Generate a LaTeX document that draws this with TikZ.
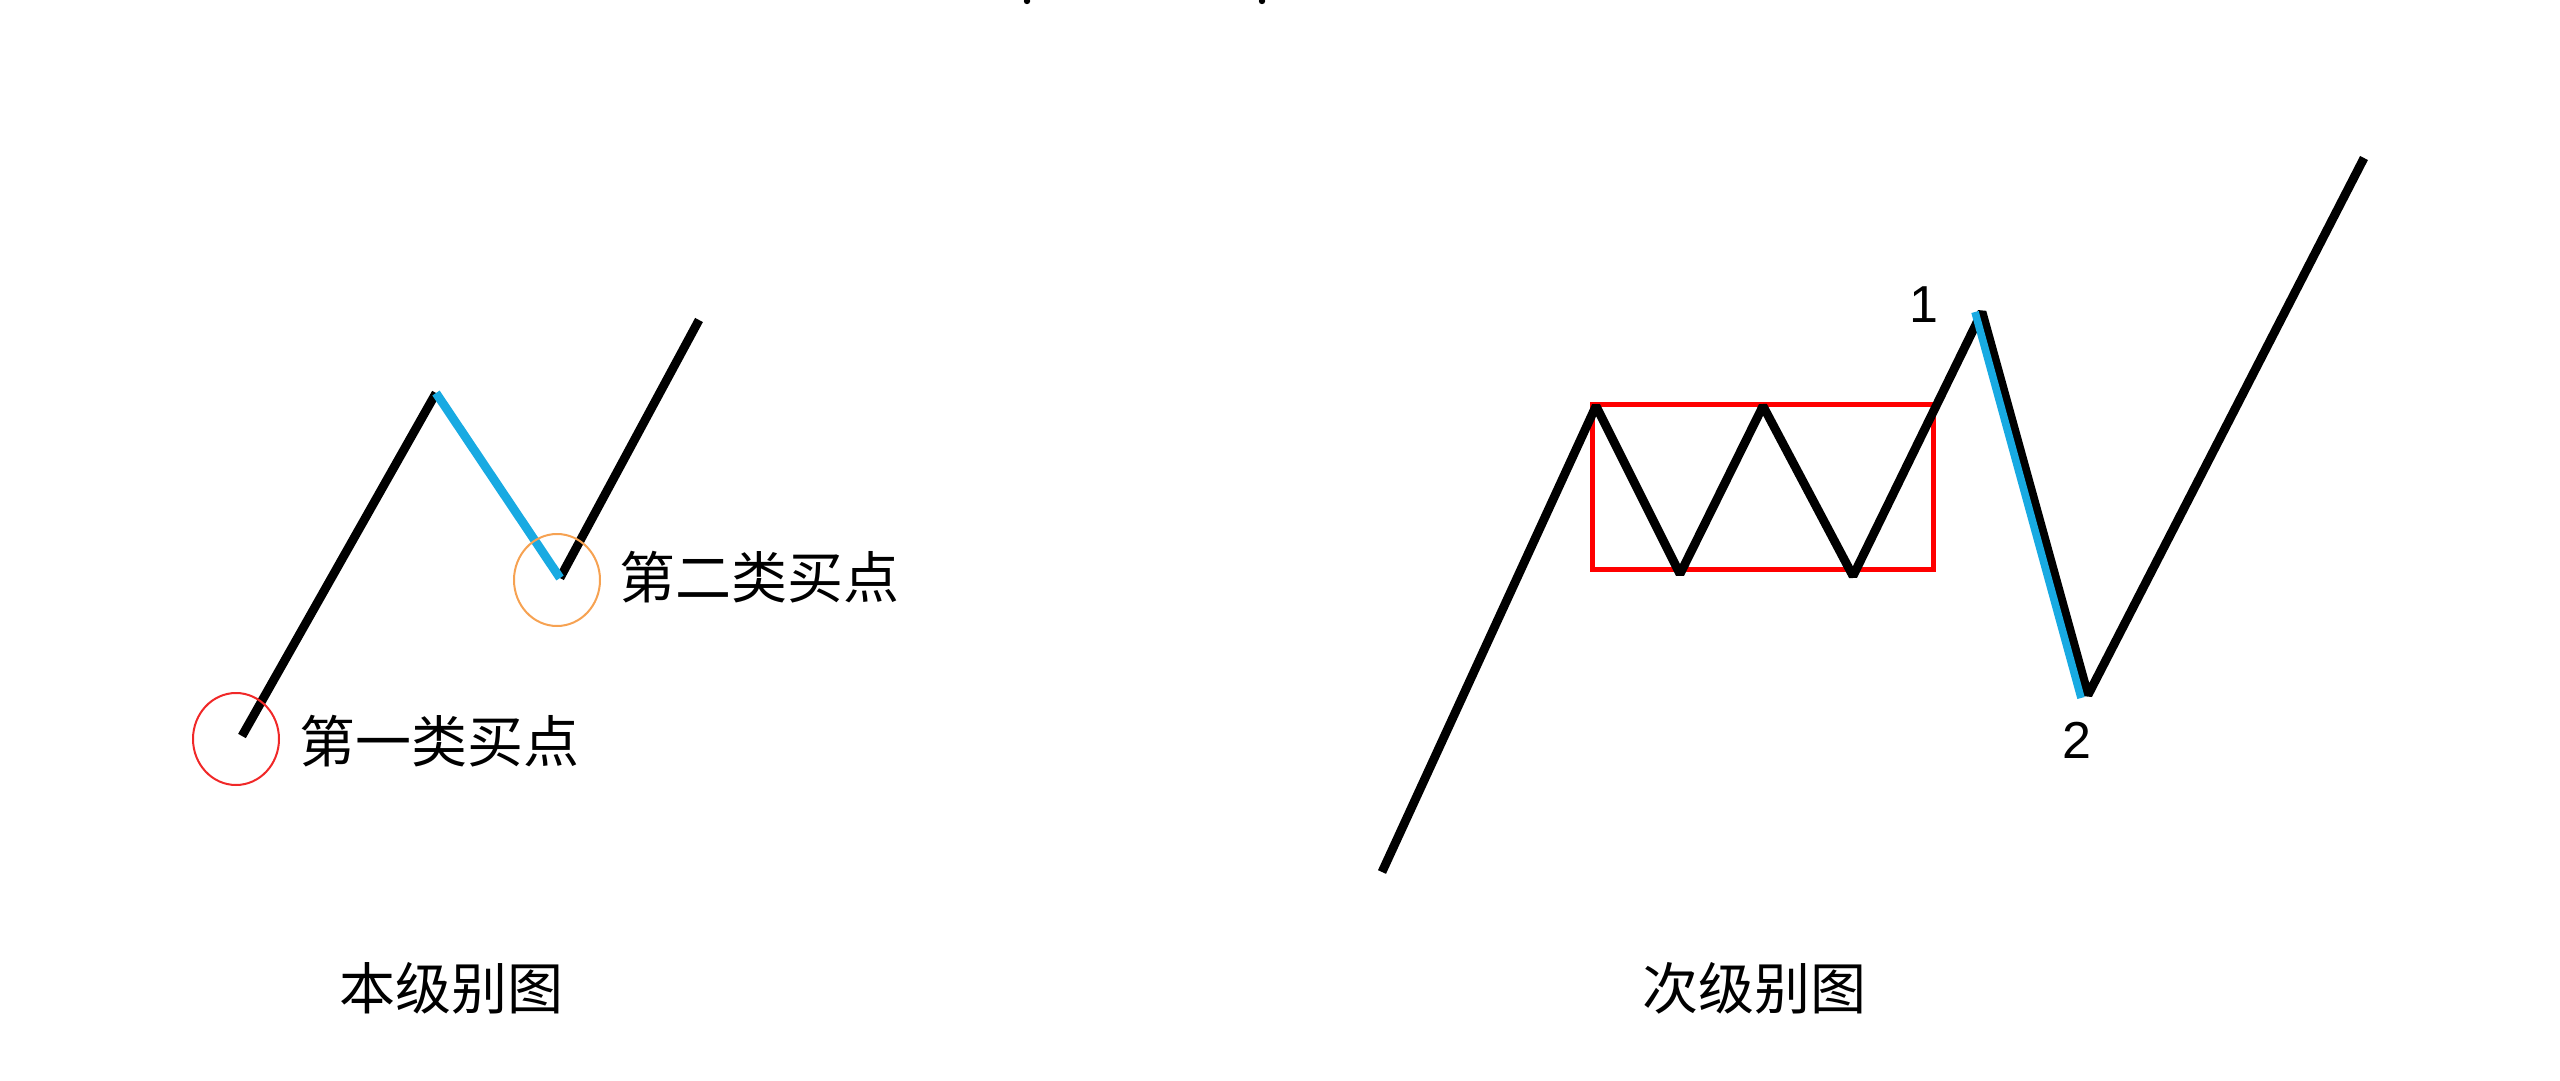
\documentclass[tikz,border=0pt]{standalone}
\usepackage{fontspec}
\newfontfamily\cjk{Noto Sans CJK SC}
\setmainfont{Liberation Sans}
\definecolor{wblue}{RGB}{24,170,226}
\definecolor{wred}{RGB}{255,0,0}
\definecolor{corange}{RGB}{246,162,82}
\definecolor{cred}{RGB}{240,40,40}
\tikzset{
  wave/.style={line width=4.4pt, black, line join=bevel},
  bluewave/.style={line width=4.4pt, wblue, line join=bevel},
  bluestripe/.style={line width=3.8pt, wblue},
  rangebox/.style={line width=2.5pt, wred},
  mark circle/.style={line width=1pt},
  cjklabel/.style={font=\cjk\fontsize{28pt}{34pt}\selectfont, inner sep=0pt},
  numlabel/.style={font=\fontsize{26pt}{30pt}\selectfont, inner sep=0pt},
}
\begin{document}
\begin{tikzpicture}[x=0.5pt,y=-0.5pt]
\useasboundingbox (0,0) rectangle (2560,1081);
% cut-off marks at the top edge
\fill[black] (1027,1) circle (1.6pt);
\fill[black] (1262,1) circle (1.6pt);

% ---- left diagram ----
\coordinate (a0) at (242,736);
\coordinate (a1) at (436,393);
\coordinate (a2) at (560,578);
\coordinate (a3) at (699,320);
\draw[wave] (a0) -- (a1);
\draw[wave] (a2) -- (a3);
\draw[bluewave] (a1) -- (a2);
\draw[mark circle, cred] (236,739) ellipse [x radius=21.5pt, y radius=23pt];
\draw[mark circle, corange] (557,580) ellipse [x radius=21.5pt, y radius=23pt];
\node[cjklabel] (buy1) at (439,741) {第一类买点};
\node[cjklabel] (buy2) at (759,577) {第二类买点};
\node[cjklabel] (title1) at (451,988) {本级别图};

% ---- right diagram ----
\coordinate (b0) at (1382,872);
\coordinate (b1) at (1596,406);
\coordinate (b2) at (1680,574);
\coordinate (b3) at (1763,406);
\coordinate (b4) at (1853,576);
\coordinate (b5) at (1982,312);
\coordinate (b6) at (2088,695);
\coordinate (b7) at (2364,158);
\coordinate (bl5) at (1975,312);
\coordinate (bl6) at (2081,698);
\coordinate (boxa) at (1592,404);
\coordinate (boxb) at (1933,569);
\draw[rangebox] (boxa) rectangle (boxb);
\draw[wave] (b0) -- (b1) -- (b2) -- (b3) -- (b4) -- (b5) -- (b6) -- (b7);
\draw[bluestripe] (bl5) -- (bl6);
\node[numlabel] (n1) at (1924,305) {1};
\node[numlabel] (n2) at (2077,740) {2};
\node[cjklabel] (title2) at (1754,988) {次级别图};
\end{tikzpicture}
\end{document}
